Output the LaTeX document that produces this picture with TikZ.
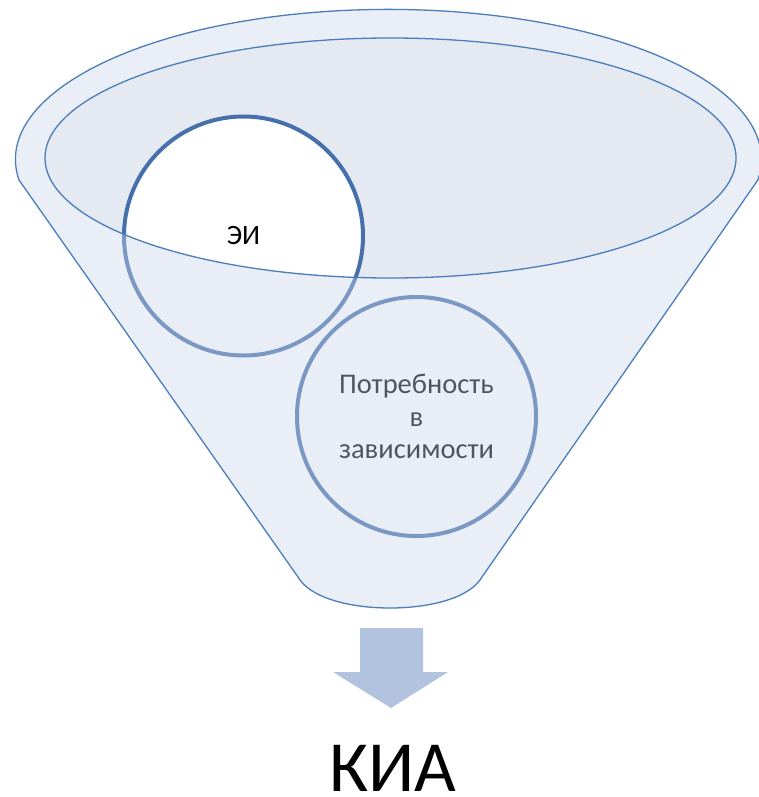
\documentclass[tikz,border=0pt]{standalone}
\usepackage{fontspec}
\setmainfont{Carlito}
\definecolor{edge}{HTML}{4A7EBB}
\definecolor{ring}{HTML}{4670AB}
\definecolor{bowl}{HTML}{E4E9F2}
\definecolor{ovl}{HTML}{CAD4E9}
\definecolor{arrowc}{HTML}{B1C3DF}
\tikzset{
  ball/.style={circle, draw=ring, line width=4pt, fill=white, minimum size=239pt, inner sep=0pt, align=center, text=black},
  outline/.style={draw=edge, line width=1.3pt},
}
\begin{document}
\begin{tikzpicture}[x=1pt, y=-1pt]
\useasboundingbox (0,0) rectangle (759,797);
% bowl (inner opening)
\fill[bowl] (390.5,158) ellipse[x radius=345.5, y radius=120];
% circles
\node[ball, font=\fontsize{28}{32}\selectfont] (ei) at (243.5,236) {ЭИ};
\node[ball, font=\fontsize{28.5}{32.5}\selectfont] (need) at (416.5,416.5) {Потребность\\в\\зависимости};
% front of funnel (semi-transparent)
\path[fill=ovl, fill opacity=0.4, even odd rule]
  (19,180) arc[start angle=172.1, end angle=367.9, x radius=373, y radius=150]
  -- (482,577) .. controls (470,598) and (430,608) .. (390,608)
  .. controls (350,608) and (310,598) .. (298,577) -- cycle
  (390.5,158) ellipse[x radius=345.5, y radius=120];
% outlines
\path[outline]
  (19,180) arc[start angle=172.1, end angle=367.9, x radius=373, y radius=150]
  -- (482,577) .. controls (470,598) and (430,608) .. (390,608)
  .. controls (350,608) and (310,598) .. (298,577) -- cycle;
\draw[edge, line width=1.3pt] (390.5,158) ellipse[x radius=345.5, y radius=120];
% arrow
\fill[arrowc] (360,628) -- (423,628) -- (423,672) -- (448,672) -- (391,708) -- (333,672) -- (360,672) -- cycle;
% result
\node[anchor=base, font=\fontsize{72}{80}\selectfont, inner sep=0pt, text depth=0pt] (kia) at (393,791) {КИА};
\end{tikzpicture}
\end{document}
